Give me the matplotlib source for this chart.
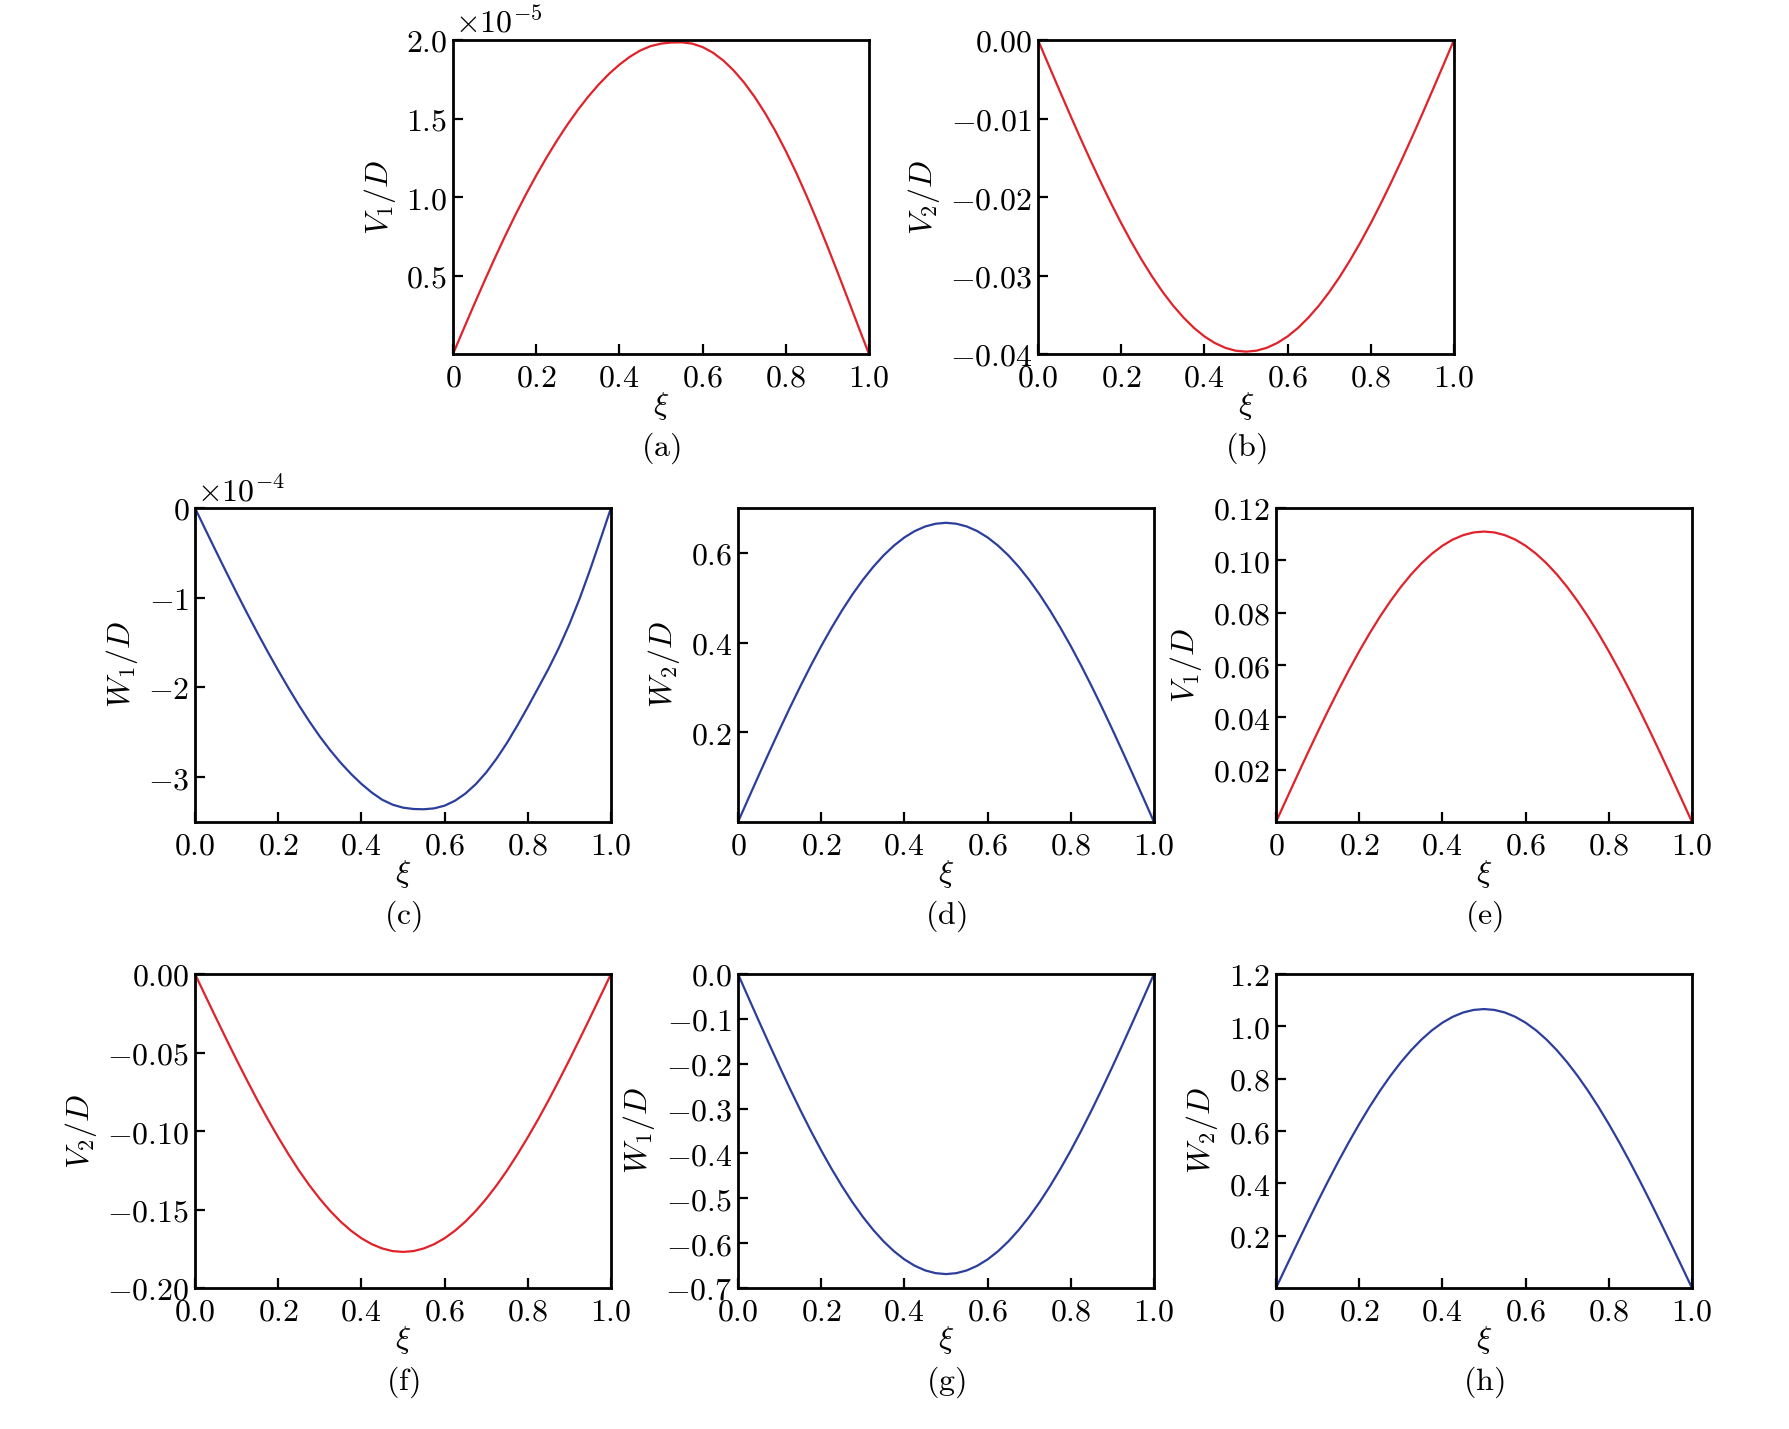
import numpy as np
import matplotlib
matplotlib.use('Agg')
import matplotlib.pyplot as plt

plt.rcParams['mathtext.fontset'] = 'cm'
plt.rcParams['font.family'] = 'serif'
plt.rcParams['font.serif'] = ['DejaVu Serif']

RED = '#e0222a'
BLUE = '#2c3e9c'

# sample positions along the span (step 0.025)
xi = [0.0, 0.025, 0.05, 0.075, 0.1, 0.125, 0.15, 0.175, 0.2, 0.225,
      0.25, 0.275, 0.3, 0.325, 0.35, 0.375, 0.4, 0.425, 0.45, 0.475,
      0.5, 0.525, 0.55, 0.575, 0.6, 0.625, 0.65, 0.675, 0.7, 0.725,
      0.75, 0.775, 0.8, 0.825, 0.85, 0.875, 0.9, 0.925, 0.95, 0.975, 1.0]

# (a) V1/D, units of 1e-5
v1_a = [0, 0.156, 0.310, 0.461, 0.608, 0.750, 0.886, 1.015, 1.137, 1.252,
        1.360, 1.461, 1.554, 1.639, 1.716, 1.784, 1.843, 1.893, 1.933, 1.961,
        1.977, 1.984, 1.985, 1.977, 1.955, 1.919, 1.869, 1.805, 1.728, 1.638,
        1.535, 1.420, 1.293, 1.155, 1.007, 0.850, 0.686, 0.517, 0.345, 0.171, 0]
# (b) V2/D
v2_b = [0, -0.00312, -0.00621, -0.00927, -0.01227, -0.01519, -0.01802, -0.02074, -0.02334, -0.02578,
        -0.02807, -0.03019, -0.03212, -0.03385, -0.03537, -0.03668, -0.03776, -0.03860, -0.03921, -0.03958,
        -0.0397, -0.03958, -0.03921, -0.03860, -0.03776, -0.03668, -0.03537, -0.03385, -0.03212, -0.03019,
        -0.02807, -0.02578, -0.02334, -0.02074, -0.01802, -0.01519, -0.01227, -0.00927, -0.00621, -0.00312, 0]
# (c) W1/D, units of 1e-4
w1_c = [0, -0.240, -0.478, -0.713, -0.945, -1.171, -1.391, -1.604, -1.810, -2.009,
        -2.200, -2.380, -2.547, -2.700, -2.839, -2.964, -3.075, -3.172, -3.252, -3.307,
        -3.340, -3.355, -3.358, -3.348, -3.318, -3.263, -3.183, -3.078, -2.948, -2.793,
        -2.618, -2.423, -2.218, -2.005, -1.790, -1.555, -1.295, -1.005, -0.685, -0.345, 0]
# (d) W2/D
w2_d = [0, 0.0524, 0.1043, 0.1557, 0.2061, 0.2553, 0.3028, 0.3485, 0.3921, 0.4331,
        0.4716, 0.5072, 0.5396, 0.5687, 0.5943, 0.6162, 0.6344, 0.6486, 0.6588, 0.6649,
        0.667, 0.6649, 0.6588, 0.6486, 0.6344, 0.6162, 0.5943, 0.5687, 0.5396, 0.5072,
        0.4716, 0.4331, 0.3921, 0.3485, 0.3028, 0.2553, 0.2061, 0.1557, 0.1043, 0.0524, 0]
# (e) V1/D
v1_e = [0, 0.00871, 0.01736, 0.02591, 0.0343, 0.04248, 0.05039, 0.058, 0.06525, 0.07208,
        0.07849, 0.0844, 0.0898, 0.09464, 0.0989, 0.10255, 0.10557, 0.10794, 0.10963, 0.11066,
        0.111, 0.11066, 0.10963, 0.10794, 0.10557, 0.10255, 0.0989, 0.09464, 0.0898, 0.0844,
        0.07849, 0.07208, 0.06525, 0.058, 0.05039, 0.04248, 0.0343, 0.02591, 0.01736, 0.00871, 0]
# (f) V2/D
v2_f = [0, -0.0139, -0.0277, -0.0413, -0.0547, -0.0677, -0.0804, -0.0925, -0.1040, -0.1149,
        -0.1252, -0.1346, -0.1432, -0.1509, -0.1577, -0.1635, -0.1683, -0.1721, -0.1748, -0.1765,
        -0.177, -0.1765, -0.1748, -0.1721, -0.1683, -0.1635, -0.1577, -0.1509, -0.1432, -0.1346,
        -0.1252, -0.1149, -0.1040, -0.0925, -0.0804, -0.0677, -0.0547, -0.0413, -0.0277, -0.0139, 0]
# (g) W1/D
w1_g = [0, -0.0525, -0.1046, -0.1561, -0.2067, -0.2560, -0.3037, -0.3496, -0.3932, -0.4344,
        -0.4730, -0.5087, -0.5412, -0.5704, -0.5961, -0.6181, -0.6363, -0.6505, -0.6608, -0.6669,
        -0.669, -0.6669, -0.6608, -0.6505, -0.6363, -0.6181, -0.5961, -0.5704, -0.5412, -0.5087,
        -0.4730, -0.4344, -0.3932, -0.3496, -0.3037, -0.2560, -0.2067, -0.1561, -0.1046, -0.0525, 0]
# (h) W2/D
w2_h = [0, 0.0837, 0.1667, 0.2488, 0.3294, 0.4080, 0.4840, 0.5570, 0.6266, 0.6923,
        0.7538, 0.8106, 0.8624, 0.9089, 0.9498, 0.9849, 1.0139, 1.0366, 1.0529, 1.0627,
        1.066, 1.0627, 1.0529, 1.0366, 1.0139, 0.9849, 0.9498, 0.9089, 0.8624, 0.8106,
        0.7538, 0.6923, 0.6266, 0.5570, 0.4840, 0.4080, 0.3294, 0.2488, 0.1667, 0.0837, 0]

xt_a = ['0', '0.2', '0.4', '0.6', '0.8', '1.0']
xt_b = ['0.0', '0.2', '0.4', '0.6', '0.8', '1.0']

W, H = 1789, 1429
fig = plt.figure(figsize=(W / 100, H / 100), dpi=100)

def add_ax(l, t):
    # every panel is 416 x 314 px
    return fig.add_axes([l / W, 1 - (t + 314) / H, 416 / W, 314 / H])

def m(s):
    return '$' + s + '$'

panels = [
    # left, top px, y, colour, ylabel, ylim, yticks, ytick labels, xtick labels, tag, offset
    ((453, 40), v1_a, RED, 'V_1/D', (0, 2.0), [0.5, 1.0, 1.5, 2.0],
     ['0.5', '1.0', '1.5', '2.0'], xt_a, 'a', r'\times10^{-5}'),
    ((1038, 40), v2_b, RED, 'V_2/D', (-0.04, 0), [0, -0.01, -0.02, -0.03, -0.04],
     ['0.00', '-0.01', '-0.02', '-0.03', '-0.04'], xt_b, 'b', None),
    ((195, 508), w1_c, BLUE, 'W_1/D', (-3.5, 0), [0, -1, -2, -3],
     ['0', '-1', '-2', '-3'], xt_b, 'c', r'\times10^{-4}'),
    ((738, 508), w2_d, BLUE, 'W_2/D', (0, 0.7), [0.2, 0.4, 0.6],
     ['0.2', '0.4', '0.6'], xt_a, 'd', None),
    ((1276, 508), v1_e, RED, 'V_1/D', (0, 0.12), [0.02, 0.04, 0.06, 0.08, 0.10, 0.12],
     ['0.02', '0.04', '0.06', '0.08', '0.10', '0.12'], xt_a, 'e', None),
    ((195, 974), v2_f, RED, 'V_2/D', (-0.2, 0), [0, -0.05, -0.10, -0.15, -0.20],
     ['0.00', '-0.05', '-0.10', '-0.15', '-0.20'], xt_b, 'f', None),
    ((738, 974), w1_g, BLUE, 'W_1/D', (-0.7, 0),
     [0, -0.1, -0.2, -0.3, -0.4, -0.5, -0.6, -0.7],
     ['0.0', '-0.1', '-0.2', '-0.3', '-0.4', '-0.5', '-0.6', '-0.7'], xt_b, 'g', None),
    ((1276, 974), w2_h, BLUE, 'W_2/D', (0, 1.2), [0.2, 0.4, 0.6, 0.8, 1.0, 1.2],
     ['0.2', '0.4', '0.6', '0.8', '1.0', '1.2'], xt_a, 'h', None),
]

FS = 23
for pos, y, col, ylab, ylim, yt, ytl, xtl, tag, off in panels:
    ax = add_ax(*pos)
    ax.plot(xi, y, color=col, lw=1.6)
    ax.set_xlim(0, 1)
    ax.set_ylim(*ylim)
    ax.set_xticks([0, 0.2, 0.4, 0.6, 0.8, 1.0])
    ax.set_xticklabels([m(s) for s in xtl])
    ax.set_yticks(yt)
    ax.set_yticklabels([m(s) for s in ytl])
    ax.tick_params(direction='in', length=7, width=1.6, labelsize=FS,
                   top=False, right=False)
    ax.tick_params(axis='x', pad=6)
    ax.tick_params(axis='y', pad=4)
    for sp in ax.spines.values():
        sp.set_linewidth(2.0)
    ax.set_ylabel(m(ylab), fontsize=FS, labelpad=6)
    ax.set_xlabel(r'$\xi$', fontsize=FS)
    ax.xaxis.label.set_va('center')
    ax.xaxis.set_label_coords(0.5, -0.165)
    ax.text(0.5, -0.30, r'$\mathrm{(%s)}$' % tag, transform=ax.transAxes,
            ha='center', va='center', fontsize=FS)
    if off:
        ax.text(0.005, 1.0, m(off), transform=ax.transAxes, ha='left', va='bottom',
                fontsize=FS)

fig.savefig('out.png', dpi=100)
